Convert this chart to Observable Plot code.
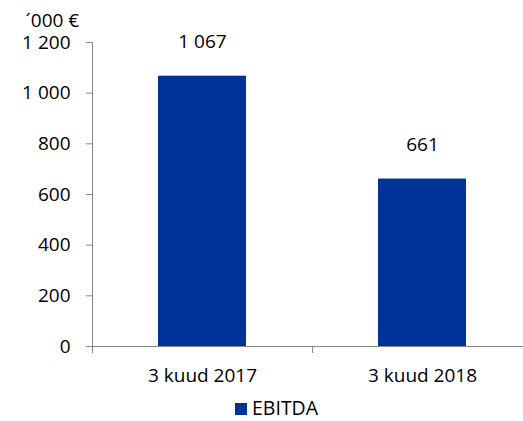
<!DOCTYPE html>
<html><head><meta charset="utf-8">
<script src="https://cdn.jsdelivr.net/npm/d3@7"></script>
<script src="https://cdn.jsdelivr.net/npm/@observablehq/plot@0.6"></script>
<style>
html,body{margin:0;padding:0;background:#fff;overflow:hidden;width:523px;height:421px}
#chart svg{overflow:hidden;display:block}
.legend{font-family:"Open Sans",sans-serif;font-size:19.5px;color:#000;height:26px;line-height:26px;padding-left:235px;white-space:nowrap}
.legend .sw{display:inline-block;width:12px;height:12px;margin-right:5px;vertical-align:0px}
</style></head><body><div id="chart"></div><script>
const categories = ["3 kuud 2017", "3 kuud 2018"];
const ebitda = [1067, 661];
const yTicks = [0, 200, 400, 600, 800, 1000, 1200];
const seriesName = "EBITDA";
const unitLabel = "´000 €";
const barColor = "#003399";
const axisColor = "#868686";

const locale = d3.formatLocale({decimal: ",", thousands: " ", grouping: [3], currency: ["", " €"]});
const fmt = locale.format(",d");
const data = categories.map((c, i) => ({category: c, value: ebitda[i]}));
const font = "'Open Sans', sans-serif";

const plot = Plot.plot({
  width: 523, height: 395,
  marginTop: 42, marginBottom: 49, marginLeft: 92, marginRight: -9,
  style: {fontFamily: font, fontSize: "19px", color: "#000", background: "#fff", overflow: "hidden"},
  x: {domain: categories, paddingInner: 0.6, paddingOuter: 0.3, label: null},
  y: {domain: [0, 1200], ticks: yTicks, label: null},
  marks: [
    Plot.barY(data, {x: "category", y: "value", fill: barColor}),
    Plot.ruleY([0], {stroke: axisColor, strokeWidth: 1}),
    Plot.ruleX(categories, {x: d => d, y1: 0, y2: 0, dx: -110, insetBottom: -7, stroke: axisColor}),
    Plot.frame({anchor: "left", stroke: axisColor}),
    Plot.axisY({ticks: yTicks, tickFormat: fmt, tickSize: 6, tickPadding: 16, stroke: axisColor, fill: "#000", label: null}),
    Plot.axisX({tickSize: 0, tickPadding: 22, fill: "#000", label: null}),
    Plot.text(data, {x: "category", y: "value", text: d => fmt(d.value), dy: -34, fill: "#000"}),
    Plot.text([unitLabel], {frameAnchor: "top-left", dx: -67, dy: -29, textAnchor: "start", fill: "#000"})
  ]
});
document.getElementById("chart").appendChild(plot);
const lg = document.createElement("div");
lg.className = "legend";
lg.innerHTML = `<span class="sw" style="background:${barColor}"></span>${seriesName}`;
document.getElementById("chart").appendChild(lg);
</script></body></html>
